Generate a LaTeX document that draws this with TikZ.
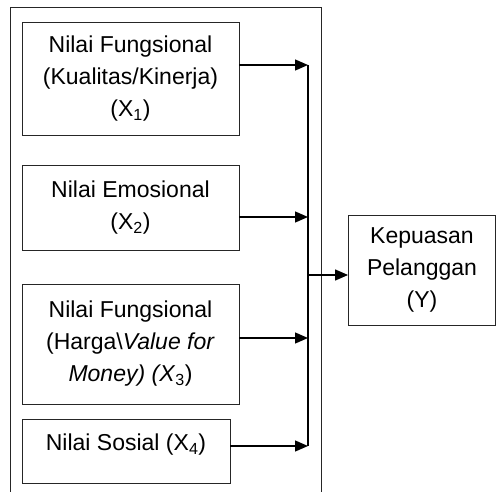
\documentclass[tikz,border=0pt]{standalone}
\usepackage{fontspec}
\setmainfont{Liberation Sans}
\usetikzlibrary{arrows.meta}
\begin{document}
\begin{tikzpicture}[x=1pt,y=-1pt,
  box/.style={draw=black!85,line width=0.9pt,align=center,inner sep=0pt,
    font=\fontsize{23}{32}\selectfont},
  conn/.style={line width=1.3pt,-{Triangle[length=13pt,width=11pt]}},
  plain/.style={line width=1.3pt},
  frame/.style={draw=black!85,line width=0.9pt}]
\useasboundingbox (0,0) rectangle (496,492);
% outer frame (open at bottom)
\draw[frame] (10,492) -- (10,7) -- (321,7) -- (321,492);
% boxes
\node[box,minimum width=217pt,minimum height=113pt] (x1) at (130.5,78.5)
  {Nilai Fungsional\\(Kualitas/Kinerja)\\(X\textsubscript{1})};
\node[box,minimum width=217pt,minimum height=85pt] (x2) at (130.5,207.5)
  {Nilai Emosional\\(X\textsubscript{2})};
\node[box,minimum width=217pt,minimum height=120pt] (x3) at (130.5,344)
  {Nilai Fungsional\\(Harga\textbackslash\textit{Value for}\\\textit{Money) (X}\textsubscript{3})};
\node[box,minimum width=208pt,minimum height=64pt,text height=16pt,text depth=17pt] (x4) at (126,451)
  {Nilai Sosial (X\textsubscript{4})};
\node[box,minimum width=147pt,minimum height=110pt] (y) at (422,270)
  {Kepuasan\\Pelanggan\\(Y)};
% connector points on the collecting line
\coordinate (c1) at (308,65);
\coordinate (c2) at (308,217);
\coordinate (c3) at (308,338);
\coordinate (c4) at (308,446);
\coordinate (cj) at (308,275);
\draw[plain] (c1) -- (c4);
\draw[conn] (x1.east |- c1) -- (c1);
\draw[conn] (x2.east |- c2) -- (c2);
\draw[conn] (x3.east |- c3) -- (c3);
\draw[conn] (x4.east |- c4) -- (c4);
\draw[conn] (cj) -- (y.west |- cj);
\end{tikzpicture}
\end{document}
